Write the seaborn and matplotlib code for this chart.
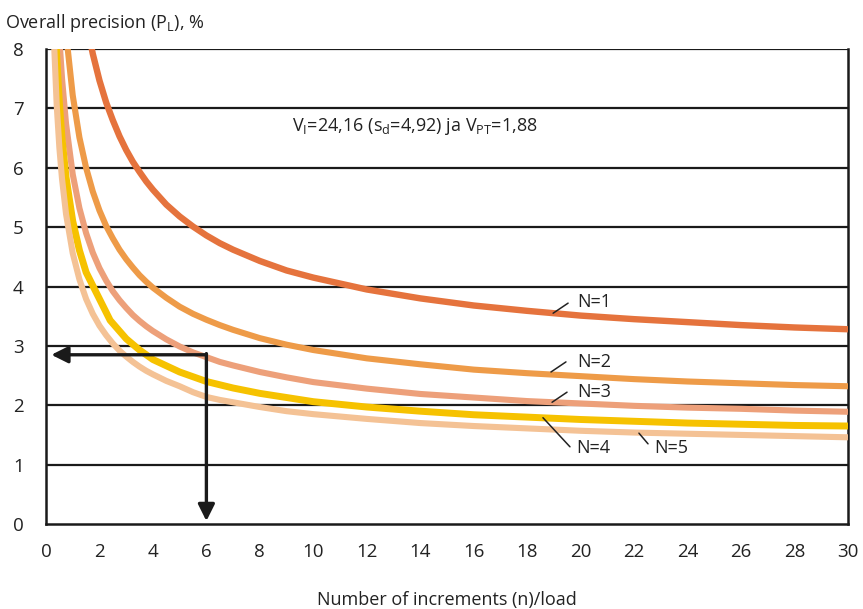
import pandas as pd
import matplotlib.pyplot as plt
import seaborn as sns
import numpy as np

# values (n = increments per load, P_L in %)
n_common = [0.25, 0.3, 0.4, 0.5, 0.6, 0.75, 1, 1.25, 1.5, 1.75, 2, 2.25, 2.5, 2.75, 3, 3.25, 3.5,
            3.75, 4, 4.5, 5, 5.5, 6, 6.5, 7, 8, 9, 10, 12, 14, 16, 18, 20, 22, 24, 26, 28, 30]
p_n1 = [19.85, 18.16, 15.78, 14.17, 12.98, 11.68, 10.21, 9.21, 8.48, 7.92, 7.47, 7.10, 6.80, 6.53,
        6.30, 6.10, 5.93, 5.77, 5.63, 5.38, 5.18, 5.01, 4.86, 4.73, 4.62, 4.43, 4.27, 4.15, 3.95,
        3.80, 3.68, 3.59, 3.51, 3.45, 3.40, 3.35, 3.31, 3.28]
p_n2 = [14.04, 12.84, 11.16, 10.02, 9.18, 8.26, 7.22, 6.51, 6.00, 5.60, 5.28, 5.02, 4.81, 4.62,
        4.46, 4.32, 4.19, 4.08, 3.98, 3.81, 3.66, 3.54, 3.44, 3.35, 3.27, 3.13, 3.02, 2.93, 2.79,
        2.69, 2.60, 2.54, 2.49, 2.44, 2.40, 2.37, 2.34, 2.32]
p_n3 = [11.46, 10.48, 9.11, 8.18, 7.50, 6.74, 5.89, 5.32, 4.90, 4.57, 4.31, 4.10, 3.92, 3.77,
        3.64, 3.52, 3.42, 3.33, 3.25, 3.11, 2.99, 2.89, 2.81, 2.73, 2.67, 2.56, 2.47, 2.39, 2.28,
        2.19, 2.13, 2.07, 2.03, 1.99, 1.96, 1.94, 1.91, 1.89]
n_yellow = [0.25, 0.3, 0.4, 0.5, 0.6, 0.75, 1, 1.25, 1.5, 2.4, 3, 3.5, 4, 5, 6, 7, 8,
            10, 12, 14, 16, 18, 20, 22, 24, 26, 28, 30]
p_n4 = [9.93, 9.08, 7.89, 7.09, 6.49, 5.84, 5.10, 4.61, 4.24, 3.43, 3.12, 2.93, 2.77, 2.56, 2.40,
        2.29, 2.20, 2.06, 1.97, 1.90, 1.84, 1.80, 1.76, 1.73, 1.70, 1.68, 1.66, 1.65]
p_n5 = [8.88, 8.12, 7.06, 6.34, 5.81, 5.22, 4.56, 4.12, 3.79, 3.54, 3.34, 3.18, 3.04, 2.92,
        2.82, 2.73, 2.65, 2.58, 2.52, 2.41, 2.32, 2.22, 2.14, 2.09, 2.05, 1.97, 1.90, 1.85, 1.77,
        1.70, 1.65, 1.61, 1.57, 1.54, 1.52, 1.50, 1.48, 1.46]

series_names = ["N=1", "N=2", "N=3", "N=4", "N=5"]
colors = ["#E5733D", "#EE9B48", "#EDA07A", "#F6C200", "#F4C295"]

x_ticks = list(range(0, 31, 2))
y_ticks = list(range(0, 9))

# read-off point: n=6 gives about 2.85 %
arrow_n = 6
arrow_p = 2.85

frames = []
for name, xs, ys in zip(series_names,
                        [n_common, n_common, n_common, n_yellow, n_common],
                        [p_n1, p_n2, p_n3, p_n4, p_n5]):
    frames.append(pd.DataFrame({"n": xs, "P": ys, "N": name}))
df = pd.concat(frames, ignore_index=True)

sns.set_style("white")
plt.rcParams['font.family'] = ['Open Sans', 'DejaVu Sans']

fig = plt.figure(figsize=(8.63, 6.09), dpi=100)
ax = fig.add_axes([0.0533, 0.1396, 0.9293, 0.7799])

for y in y_ticks[1:]:
    ax.axhline(y, color="#1a1a1a", lw=1.6, zorder=1)

widths = {"N=1": 4.6, "N=2": 4.4, "N=3": 4.4, "N=4": 5.0, "N=5": 4.4}
for name, col in zip(series_names, colors):
    sns.lineplot(data=df[df["N"] == name], x="n", y="P", color=col, lw=widths[name],
                 sort=False, estimator=None, ax=ax, zorder=3, legend=False,
                 solid_joinstyle="round", solid_capstyle="butt")

ax.set_xlim(0, 30)
ax.set_ylim(0, 8)
ax.set_xticks(x_ticks)
ax.set_yticks(y_ticks)
ax.tick_params(axis="both", length=6, width=1.3, color="#1a1a1a", labelsize=13.5,
               labelcolor="#222222", pad=8, direction="out")
ax.tick_params(axis="y", pad=10)
ax.set_xlabel("Number of increments (n)/load", fontsize=13, color="#222222", labelpad=21)
ax.set_ylabel("")
for side in ["left", "bottom", "right"]:
    ax.spines[side].set_color("#1a1a1a")
    ax.spines[side].set_linewidth(1.8)
ax.spines["top"].set_visible(False)

fig.text(0.006, 0.962, r"Overall precision (P$_\mathregular{L}$), %", fontsize=13,
         color="#222222", va="center", ha="left")

ax.text(9.2, 6.69, r"V$_\mathregular{I}$=24,16 (s$_\mathregular{d}$=4,92) ja V$_\mathregular{PT}$=1,88",
        fontsize=13, color="#222222", va="center", ha="left")

# curve labels with leader lines
labels = [("N=1", 19.86, 3.74, (18.97, 3.55), (19.53, 3.72)),
          ("N=2", 19.86, 2.73, (18.89, 2.56), (19.45, 2.73)),
          ("N=3", 19.86, 2.22, (18.93, 2.05), (19.49, 2.22)),
          ("N=4", 19.83, 1.28, (18.59, 1.79), (19.60, 1.30)),
          ("N=5", 22.74, 1.28, (22.18, 1.53), (22.52, 1.35))]
for txt, tx, ty, p0, p1 in labels:
    ax.plot([p0[0], p1[0]], [p0[1], p1[1]], color="#222222", lw=1.1, zorder=4)
    ax.text(tx, ty, txt, fontsize=13, color="#222222", va="center", ha="left", zorder=4)

# read-off arrows
arrow_kw = dict(arrowstyle="-|>,head_length=1.0,head_width=0.5", color="#1a1a1a", lw=2.4,
                shrinkA=0, shrinkB=0)
ax.annotate("", xy=(0.2, arrow_p), xytext=(arrow_n, arrow_p), arrowprops=arrow_kw, zorder=5)
ax.annotate("", xy=(arrow_n, 0.05), xytext=(arrow_n, arrow_p + 0.02), arrowprops=arrow_kw, zorder=5)

fig.savefig("out.png", dpi=100)
